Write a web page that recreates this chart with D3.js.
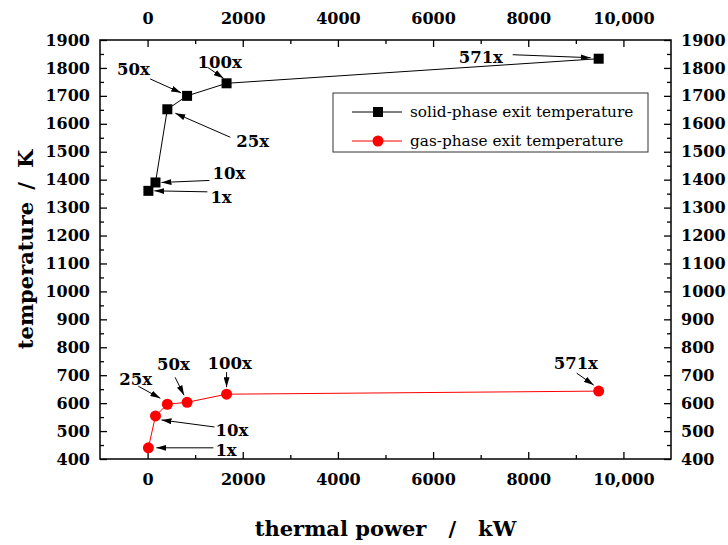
<!DOCTYPE html>
<html>
<head>
<meta charset="utf-8">
<script src="https://cdn.jsdelivr.net/npm/d3@7"></script>
<style>
  body { margin: 0; background: #fff; }
  svg { display: block; }
</style>
</head>
<body>
<div id="chart"></div>
<script>
// values
const scaleLabels = ["1x", "10x", "25x", "50x", "100x", "571x"]
const powerKW = [17, 166, 415, 830, 1660, 9480]
const solidExitK = [1360, 1390, 1652, 1700, 1745, 1833]
const gasExitK = [440, 554, 596, 603, 632, 643]

const xMajorTicks = [0, 2000, 4000, 6000, 8000, 10000]
const xMinorTicks = [1000, 3000, 5000, 7000, 9000]
const yMajorTicks = d3.range(400, 1901, 100)
const yMinorTicks = d3.range(450, 1900, 100)

const seriesNames = ["solid-phase exit temperature", "gas-phase exit temperature"]

// annotation layout (pixel offsets from the point: label start / baseline, arrow tail, arrow head)
const solidNotes = [
  { tx: 62, ty: 12, t: [59, 1], h: [6, 0] },
  { tx: 57, ty: -3, t: [54, -2], h: [6, 0] },
  { tx: 69, ty: 38, t: [63, 28], h: [8, 4] },
  { tx: -70, ty: -21, t: [-37, -17], h: [-6, -3] },
  { tx: -29, ty: -15, t: [-19, -16], h: [-3, -5] },
  { tx: -140, ty: 4, t: [-86, -4], h: [-8, -1] }
]
const gasNotes = [
  { tx: 67, ty: 8, t: [65, 0], h: [8, 0] },
  { tx: 60, ty: 20, t: [59, 11], h: [6, 4] },
  { tx: -48, ty: -19, t: [-29, -18], h: [-7, -6] },
  { tx: -30, ty: -32, t: [-12, -25], h: [-3, -7] },
  { tx: -19, ty: -25, t: [0, -22], h: [0, -7] },
  { tx: -45, ty: -22, t: [-22, -18], h: [-5, -6] }
]

const W = 728, H = 545
const margin = { top: 40, right: 57, bottom: 86, left: 100 }
const width = W - margin.left - margin.right
const height = H - margin.top - margin.bottom

const serif = "'DejaVu Serif', serif"

const svg = d3.select("#chart").append("svg")
  .attr("width", W)
  .attr("height", H)

svg.append("defs").append("marker")
  .attr("id", "arrow")
  .attr("viewBox", "0 0 10 6")
  .attr("refX", 10)
  .attr("refY", 3)
  .attr("markerWidth", 10)
  .attr("markerHeight", 6)
  .attr("markerUnits", "userSpaceOnUse")
  .attr("orient", "auto")
  .append("path")
  .attr("d", "M0,0 L10,3 L0,6 Z")
  .attr("fill", "#000")

const g = svg.append("g").attr("transform", `translate(${margin.left},${margin.top})`)

const x = d3.scaleLinear().domain([-1000, 11000]).range([0, width])
const y = d3.scaleLinear().domain([400, 1900]).range([height, 0])

const fmtX = (d) => (d >= 10000 ? d3.format(",")(d) : d3.format("d")(d))
const fmtY = d3.format("d")

function styleAxis(sel) {
  sel.select(".domain").remove()
  sel.selectAll("line").attr("stroke", "#000").attr("stroke-width", 1.3)
  sel.selectAll("text")
    .attr("fill", "#000")
    .style("font-family", serif)
    .style("font-weight", "bold")
    .style("font-size", "16px")
}

// major axes
g.append("g").attr("transform", `translate(0,${height})`)
  .call(d3.axisBottom(x).tickValues(xMajorTicks).tickFormat(fmtX).tickSize(-7).tickPadding(15))
  .call(styleAxis)
g.append("g")
  .call(d3.axisTop(x).tickValues(xMajorTicks).tickFormat(fmtX).tickSize(-7).tickPadding(16))
  .call(styleAxis)
g.append("g")
  .call(d3.axisLeft(y).tickValues(yMajorTicks).tickFormat(fmtY).tickSize(-7).tickPadding(10))
  .call(styleAxis)
g.append("g").attr("transform", `translate(${width},0)`)
  .call(d3.axisRight(y).tickValues(yMajorTicks).tickFormat(fmtY).tickSize(-7).tickPadding(10))
  .call(styleAxis)

// minor ticks
g.append("g").attr("transform", `translate(0,${height})`)
  .call(d3.axisBottom(x).tickValues(xMinorTicks).tickFormat("").tickSize(-4))
  .call(styleAxis)
g.append("g")
  .call(d3.axisTop(x).tickValues(xMinorTicks).tickFormat("").tickSize(-4))
  .call(styleAxis)
g.append("g")
  .call(d3.axisLeft(y).tickValues(yMinorTicks).tickFormat("").tickSize(-4))
  .call(styleAxis)
g.append("g").attr("transform", `translate(${width},0)`)
  .call(d3.axisRight(y).tickValues(yMinorTicks).tickFormat("").tickSize(-4))
  .call(styleAxis)

// frame
g.append("rect")
  .attr("width", width)
  .attr("height", height)
  .attr("fill", "none")
  .attr("stroke", "#000")
  .attr("stroke-width", 1.5)

// series
const solid = powerKW.map((p, i) => ({ p, v: solidExitK[i], label: scaleLabels[i], note: solidNotes[i] }))
const gas = powerKW.map((p, i) => ({ p, v: gasExitK[i], label: scaleLabels[i], note: gasNotes[i] }))

const line = d3.line().x((d) => x(d.p)).y((d) => y(d.v))

g.append("path").datum(solid)
  .attr("fill", "none").attr("stroke", "#000").attr("stroke-width", 1)
  .attr("d", line)
g.append("path").datum(gas)
  .attr("fill", "none").attr("stroke", "#ff0000").attr("stroke-width", 1)
  .attr("d", line)

g.selectAll(".sq").data(solid).enter().append("rect")
  .attr("class", "sq")
  .attr("x", (d) => x(d.p) - 5)
  .attr("y", (d) => y(d.v) - 5)
  .attr("width", 10)
  .attr("height", 10)
  .attr("fill", "#000")

g.selectAll(".dot").data(gas).enter().append("circle")
  .attr("class", "dot")
  .attr("cx", (d) => x(d.p))
  .attr("cy", (d) => y(d.v))
  .attr("r", 5.5)
  .attr("fill", "#ff0000")

// annotations
function annotate(data) {
  const a = g.append("g")
  a.selectAll("line").data(data).enter().append("line")
    .attr("x1", (d) => x(d.p) + d.note.t[0])
    .attr("y1", (d) => y(d.v) + d.note.t[1])
    .attr("x2", (d) => x(d.p) + d.note.h[0])
    .attr("y2", (d) => y(d.v) + d.note.h[1])
    .attr("stroke", "#000")
    .attr("stroke-width", 1)
    .attr("marker-end", "url(#arrow)")
  a.selectAll("text").data(data).enter().append("text")
    .attr("x", (d) => x(d.p) + d.note.tx)
    .attr("y", (d) => y(d.v) + d.note.ty)
    .style("font-family", serif)
    .style("font-weight", "bold")
    .style("font-size", "16.5px")
    .text((d) => d.label)
}
annotate(solid)
annotate(gas)

// legend
const legend = g.append("g").attr("transform", `translate(${333 - margin.left},${93 - margin.top})`)
legend.append("rect")
  .attr("width", 315)
  .attr("height", 59)
  .attr("fill", "#fff")
  .attr("stroke", "#333")
  .attr("stroke-width", 1)
const legendColors = ["#000", "#ff0000"]
seriesNames.forEach((name, i) => {
  const row = legend.append("g").attr("transform", `translate(0,${19 + i * 29})`)
  row.append("line")
    .attr("x1", 19).attr("x2", 69)
    .attr("stroke", legendColors[i]).attr("stroke-width", 1)
  if (i === 0) {
    row.append("rect").attr("x", 40).attr("y", -5).attr("width", 10).attr("height", 10).attr("fill", "#000")
  } else {
    row.append("circle").attr("cx", 45).attr("r", 5.5).attr("fill", "#ff0000")
  }
  row.append("text")
    .attr("x", 77)
    .attr("dy", "0.35em")
    .style("font-family", serif)
    .style("font-size", "15.3px")
    .text(name)
})

// axis titles
svg.append("text")
  .attr("x", margin.left + width / 2)
  .attr("y", 536)
  .attr("text-anchor", "middle")
  .style("font-family", serif)
  .style("font-weight", "bold")
  .style("font-size", "21px")
  .call((t) => {
    t.append("tspan").text("thermal power")
    t.append("tspan").attr("dx", 22).text("/")
    t.append("tspan").attr("dx", 22).text("kW")
  })

svg.append("text")
  .attr("transform", `translate(33,${margin.top + height / 2}) rotate(-90)`)
  .attr("text-anchor", "middle")
  .style("font-family", serif)
  .style("font-weight", "bold")
  .style("font-size", "21px")
  .call((t) => {
    t.append("tspan").text("temperature")
    t.append("tspan").attr("dx", 12).text("/")
    t.append("tspan").attr("dx", 14).text("K")
  })
</script>
</body>
</html>
